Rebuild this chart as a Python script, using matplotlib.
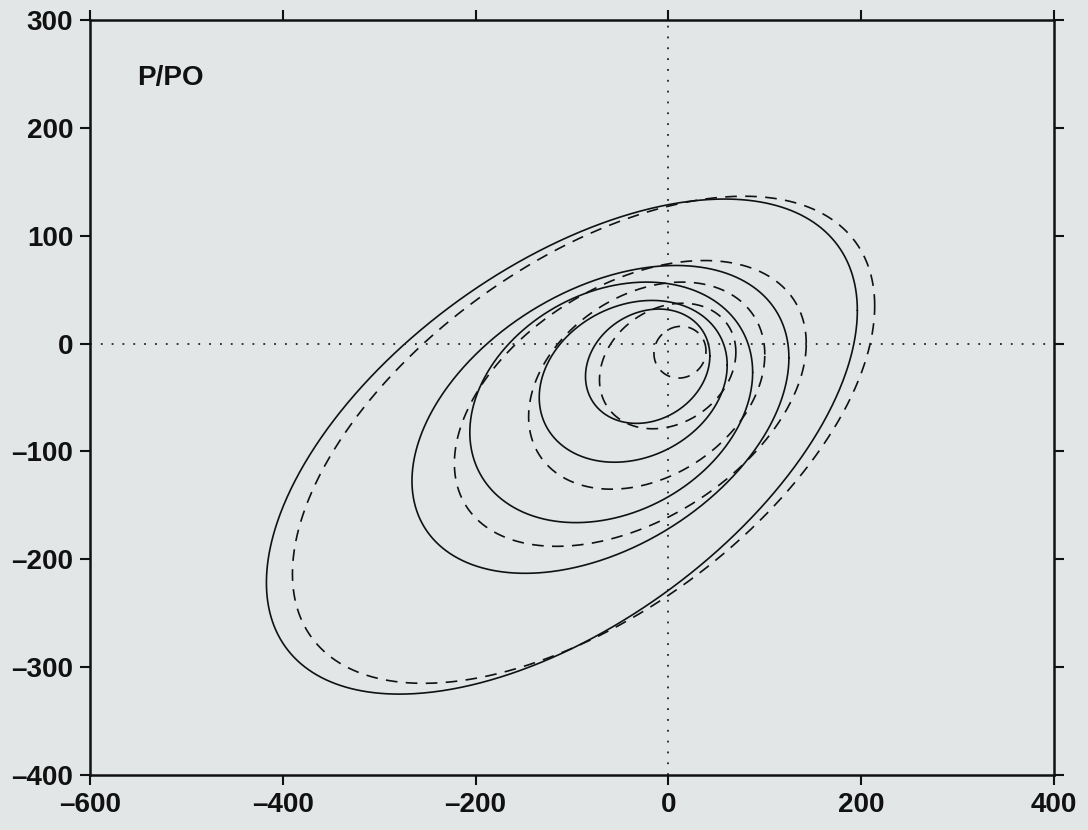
import numpy as np
import matplotlib
matplotlib.use("Agg")
import matplotlib.pyplot as plt

# ---- data ----
# each curve: centre (cx, cy), half x-extent rx, half y-extent ry,
# and tilt coupling c = cos(phase) between x and y oscillation
solid_cx = [-110.5, -70.5, -59.3, -36.5, -21.5]
solid_cy = [-95.5, -70.3, -54.5, -35.0, -21.0]
solid_rx = [306.5, 195.5, 146.7, 97.5, 64.5]
solid_ry = [229.5, 142.7, 111.5, 75.0, 53.0]
solid_c = [0.55, 0.40, 0.25, 0.20, 0.18]

dash_cx = [-88.0, -39.5, -22.5, -0.75, 12.0]
dash_cy = [-89.2, -55.5, -39.0, -20.8, -8.0]
dash_rx = [302.0, 182.5, 122.5, 70.75, 27.0]
dash_ry = [225.8, 132.5, 96.0, 58.2, 24.0]
dash_c = [0.55, 0.42, 0.30, 0.22, 0.05]

x_ticks = [-600, -400, -200, 0, 200, 400]
y_ticks = [-400, -300, -200, -100, 0, 100, 200, 300]
panel_label = "P/PO"

BG = "#e2e6e6"
plt.rcParams["font.family"] = ["Liberation Sans", "DejaVu Sans"]

fig = plt.figure(figsize=(10.88, 8.30), dpi=100, facecolor=BG)
ax = fig.add_axes([90 / 1088, 1 - 775 / 830, 964 / 1088, 755 / 830], facecolor=BG)

t = np.linspace(0, 2 * np.pi, 721)


def curve(cx, cy, rx, ry, c):
    phi = np.arccos(c)
    return cx + rx * np.cos(t), cy + ry * np.cos(t - phi)


for cx, cy, rx, ry, c in zip(solid_cx, solid_cy, solid_rx, solid_ry, solid_c):
    x, y = curve(cx, cy, rx, ry, c)
    ax.plot(x, y, color="#111111", lw=1.2, solid_capstyle="round")

for cx, cy, rx, ry, c in zip(dash_cx, dash_cy, dash_rx, dash_ry, dash_c):
    x, y = curve(cx, cy, rx, ry, c)
    ax.plot(x, y, color="#111111", lw=1.2, linestyle=(0, (7, 5)))

ax.axhline(0, color="#222222", lw=1.3, linestyle=(0, (1, 5)))
ax.axvline(0, color="#222222", lw=1.3, linestyle=(0, (1, 5)))

ax.set_xlim(x_ticks[0], x_ticks[-1])
ax.set_ylim(y_ticks[0], y_ticks[-1])
ax.set_xticks(x_ticks)
ax.set_yticks(y_ticks)
ax.set_xticklabels([f"{v:d}".replace("-", "\u2013") for v in x_ticks])
ax.set_yticklabels([f"{v:d}".replace("-", "\u2013") for v in y_ticks])

for s in ax.spines.values():
    s.set_linewidth(1.8)
    s.set_color("#111111")

ax.tick_params(axis="both", which="major", direction="out", length=7, width=1.5,
               colors="#111111", labelsize=20, top=True, right=True, pad=5)
for lab in ax.get_xticklabels() + ax.get_yticklabels():
    lab.set_fontweight("bold")

ax.text(0.049, 0.914, panel_label, transform=ax.transAxes, fontsize=20,
        fontweight="bold", ha="left", va="baseline", color="#111111")

fig.savefig("out.png", dpi=100, facecolor=BG)
